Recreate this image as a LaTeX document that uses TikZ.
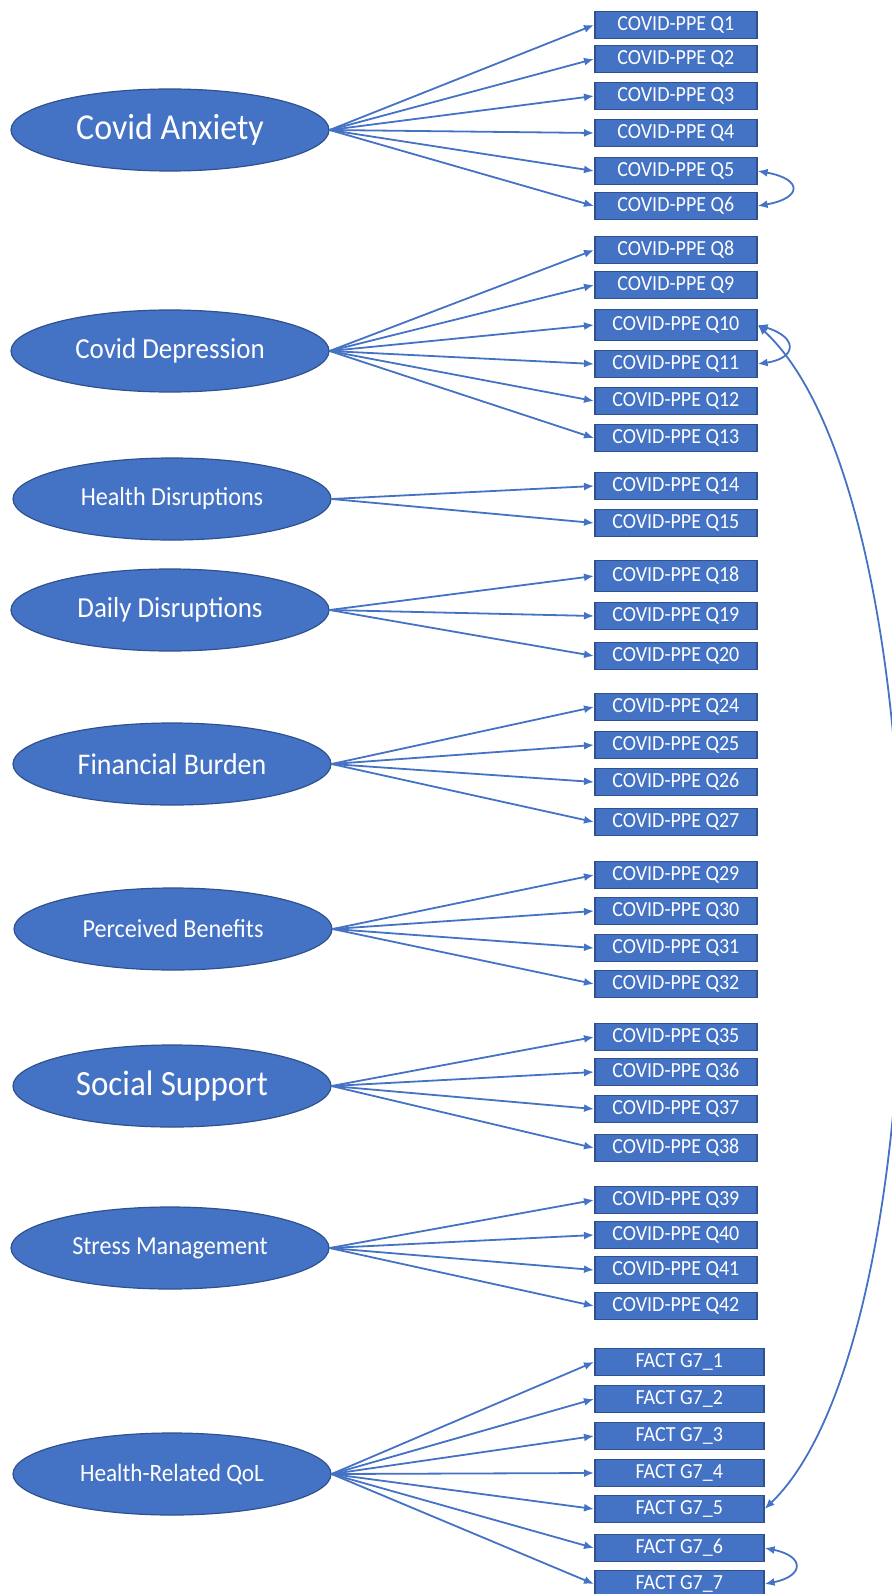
\documentclass[tikz,border=0pt]{standalone}
\usepackage{fontspec}
\setmainfont{Carlito}[FakeStretch=0.93]
\usetikzlibrary{shapes.geometric}
\usetikzlibrary{arrows.meta}

\definecolor{ppeblue}{HTML}{4472C4}
\definecolor{ppeedge}{HTML}{2F528F}

\tikzset{
  latent/.style={ellipse, draw=ppeedge, line width=1.2pt, fill=ppeblue, text=white,
    minimum width=318pt, minimum height=82pt, inner sep=0pt},
  item/.style={rectangle, draw=ppeedge, line width=1.6pt, fill=ppeblue, text=white,
    font=\fontsize{21.5}{25}\selectfont, minimum width=162pt, minimum height=27pt,
    inner sep=0pt, anchor=west},
  factitem/.style={item, minimum width=169pt},
  load/.style={ppeblue, line width=1.8pt, -{Latex[length=10pt,width=8pt]}},
  cov/.style={ppeblue, line width=1.8pt, {Latex[length=10pt,width=8pt]}-{Latex[length=10pt,width=8pt]}},
}

\begin{document}
\begin{tikzpicture}[x=1pt,y=-1pt]%
    \useasboundingbox (0,0) rectangle (891,1594);%
    % latent factors
    \node[latent, font=\fontsize{36.5}{42}\selectfont] (anx) at (170,130) {Covid Anxiety};%
    \node[latent, font=\fontsize{29}{34}\selectfont] (dep) at (170,351) {Covid Depression};%
    \node[latent, font=\fontsize{26}{31}\selectfont] (hdis) at (172,499) {Health Disruptions};%
    \node[latent, font=\fontsize{29}{34}\selectfont] (ddis) at (170,610) {Daily Disruptions};%
    \node[latent, font=\fontsize{30}{35}\selectfont] (fin) at (172,764) {Financial Burden};%
    \node[latent, font=\fontsize{26}{31}\selectfont] (ben) at (173,929) {Perceived Benefits};%
    \node[latent, font=\fontsize{35.5}{41}\selectfont] (soc) at (172,1086) {Social Support};%
    \node[latent, font=\fontsize{26}{31}\selectfont] (str) at (170,1248) {Stress Management};%
    \node[latent, font=\fontsize{25}{30}\selectfont] (qol) at (172,1474) {Health-Related QoL};%
    % observed items
    \foreach \n/\y in {1/25,2/59,3/96,4/133,5/171,6/206,8/250,9/285,11/364,12/401,13/438,%
        14/486,15/523,19/616,20/656,24/707,25/745,26/782,27/822,29/875,30/911,31/948,32/984,%
        35/1037,36/1072,37/1109,38/1148,39/1200,40/1235,41/1270,42/1306}%
        \node[item] (q\n) at (594,\y) {COVID-PPE Q\n};%
    \node[item, minimum height=31pt] (q10) at (594,325) {COVID-PPE Q10};%
    \node[item, minimum height=31pt] (q18) at (594,576) {COVID-PPE Q18};%
    \foreach \n/\y in {1/1362,2/1399,3/1436,4/1473,5/1509,6/1548,7/1584}%
        \node[factitem] (g\n) at (594,\y) {FACT G7\_\n};%
    % loadings
    \foreach \n in {1,...,6} \draw[load] (anx.east) -- (q\n.west);%
    \foreach \n in {8,...,13} \draw[load] (dep.east) -- (q\n.west);%
    \foreach \n in {14,15} \draw[load] (hdis.east) -- (q\n.west);%
    \foreach \n in {18,19,20} \draw[load] (ddis.east) -- (q\n.west);%
    \foreach \n in {24,...,27} \draw[load] (fin.east) -- (q\n.west);%
    \foreach \n in {29,...,32} \draw[load] (ben.east) -- (q\n.west);%
    \foreach \n in {35,...,38} \draw[load] (soc.east) -- (q\n.west);%
    \foreach \n in {39,...,42} \draw[load] (str.east) -- (q\n.west);%
    \foreach \n in {1,...,7} \draw[load] (qol.east) -- (g\n.west);%
    % correlated errors
    \draw[cov] (q5.east) .. controls +(45,8) and +(45,-8) .. (q6.east);%
    \draw[cov] (q10.east) .. controls +(40,12) and +(40,-6) .. (q11.east);%
    \draw[cov] (q10.east) .. controls +(189,175) and +(182,-175) .. (g5.east);%
    \draw[cov] (g6.east) .. controls +(40,8) and +(40,-8) .. (g7.east);%
\end{tikzpicture}
\end{document}
